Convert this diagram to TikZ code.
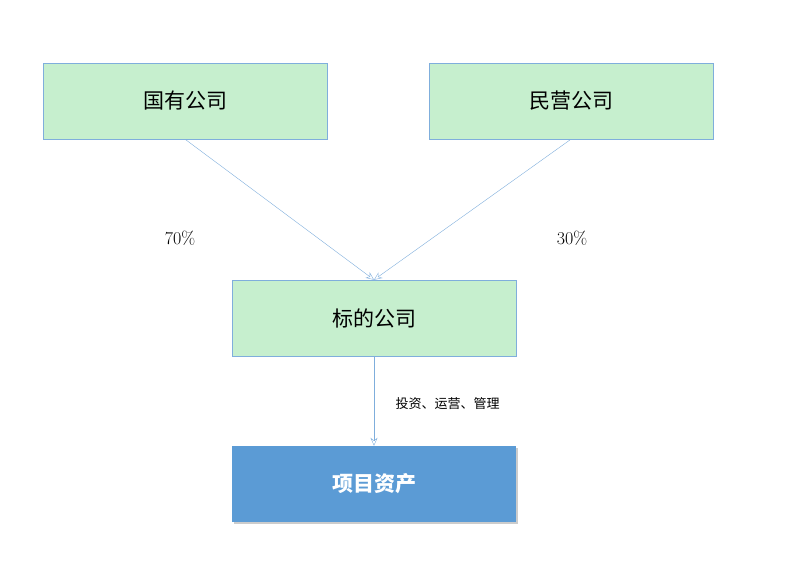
\documentclass[tikz,border=0pt]{standalone}
\usepackage{fontspec}
\newfontfamily\cjk{Noto Sans CJK SC}
\usetikzlibrary{shadows,arrows.meta}
\definecolor{gfill}{HTML}{C6EFCE}
\definecolor{bline}{HTML}{7FAEDC}
\definecolor{bfill}{HTML}{5B9BD5}
\begin{document}
\begin{tikzpicture}[x=1pt,y=-1pt,
  gbox/.style={draw=bline,fill=gfill,minimum width=284pt,minimum height=76pt,font=\cjk\fontsize{21}{24}\selectfont},
  arr/.style={draw=bline,-{Stealth[length=8pt,width=7pt,open]}}]
\useasboundingbox (0,0) rectangle (800,570);
\node[gbox] (a) at (185,101) {国有公司};
\node[gbox] (b) at (571,101) {民营公司};
\node[gbox] (c) at (374,318) {标的公司};
\node[fill=bfill,minimum width=284pt,minimum height=76pt,text=white,font=\cjk\bfseries\fontsize{21}{24}\selectfont,drop shadow={shadow xshift=2pt,shadow yshift=-2pt,opacity=0.4}] (d) at (374,484) {项目资产};
\draw[arr] (a.south) -- (c.north);
\draw[arr] (b.south) -- (c.north);
\draw[arr] (c.south) -- (d.north);
\node[font=\fontsize{18}{20}\selectfont] (p1) at (180,238) {70\%};
\node[font=\fontsize{18}{20}\selectfont] (p2) at (572,238) {30\%};
\node[font=\cjk\fontsize{13}{15}\selectfont,anchor=west] (l) at (392,404) {投资、运营、管理};
\end{tikzpicture}
\end{document}
